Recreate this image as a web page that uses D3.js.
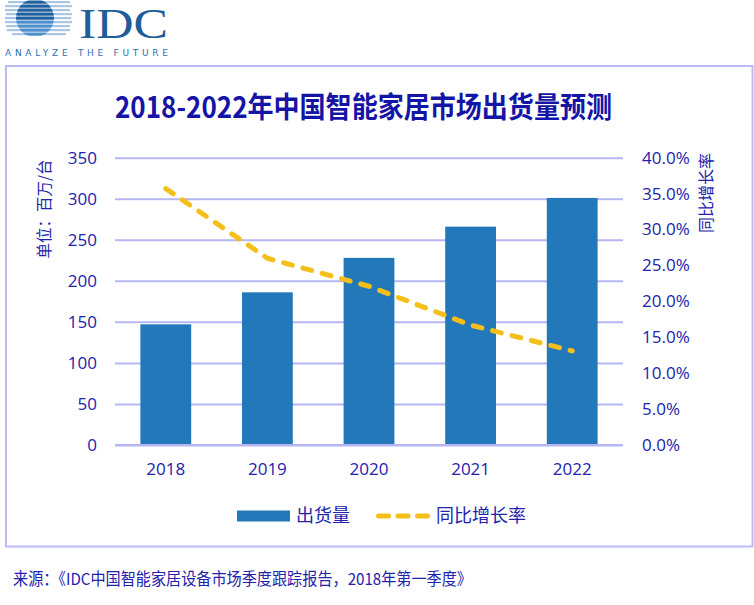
<!DOCTYPE html>
<html>
<head>
<meta charset="utf-8">
<script src="https://cdn.jsdelivr.net/npm/d3@7"></script>
<style>
  html, body { margin: 0; padding: 0; background: #fff; }
  svg { display: block; }
  text { font-family: "Open Sans", "Noto Sans CJK SC", sans-serif; }
</style>
</head>
<body>
<svg id="chart" width="754" height="605"></svg>
<script>
const years = ["2018", "2019", "2020", "2021", "2022"];
const shipments = [147, 186, 228, 266, 301];
const growth = [0.357, 0.260, 0.221, 0.167, 0.131];
const leftTicks = [0, 50, 100, 150, 200, 250, 300, 350];
const rightTicks = [0, 0.05, 0.10, 0.15, 0.20, 0.25, 0.30, 0.35, 0.40];
const titleText = "2018-2022年中国智能家居市场出货量预测";
const leftTitle = "单位：百万/台";
const rightTitle = "同比增长率";
const seriesNames = ["出货量", "同比增长率"];
const sourceText = "来源：《IDC中国智能家居设备市场季度跟踪报告，2018年第一季度》";

const textColor = "#2222AC";
const gridColor = "#B6B6F4";
const barColor = "#2378BA";
const lineColor = "#F5BF1A";

const svg = d3.select("#chart");

// ---- Logo ----
const logo = svg.append("g");
const defs = svg.append("defs");
defs.append("clipPath").attr("id", "logoCircle")
  .append("circle").attr("cx", 35).attr("cy", 18).attr("r", 19);
const stripeYs = [1, 5, 9, 13, 17, 21, 25, 29, 33];
const stripeX0 = [8, 5, 5, 6, 5, 5, 6, 7, 12];
const stripeX1 = [70, 72, 70, 72, 71, 72, 70, 70, 66];
logo.selectAll("rect.outer").data(stripeYs).join("rect")
  .attr("x", (d, i) => stripeX0[i]).attr("y", d => d)
  .attr("width", (d, i) => stripeX1[i] - stripeX0[i]).attr("height", 2.2)
  .attr("fill", "#A9C6E4");
logo.append("g").attr("clip-path", "url(#logoCircle)")
  .selectAll("rect").data(stripeYs).join("rect")
  .attr("x", 14).attr("y", d => d - 0.5)
  .attr("width", 42).attr("height", 3.2)
  .attr("fill", (d, i) => i < 5 ? "#1E5F9E" : "#4F8FCC");
logo.append("text").attr("x", 79).attr("y", 38)
  .style("font-family", "'Liberation Serif', serif")
  .attr("font-size", 42).attr("fill", "#1F5C99")
  .attr("textLength", 89).attr("lengthAdjust", "spacingAndGlyphs")
  .text("IDC");
logo.append("text").attr("x", 5).attr("y", 56)
  .attr("font-size", 9).attr("fill", "#2A70B2")
  .style("font-family", "'DejaVu Sans', sans-serif")
  .attr("textLength", 163).attr("lengthAdjust", "spacing")
  .text("ANALYZE THE FUTURE");

// ---- Frame ----
svg.append("rect").attr("x", 6).attr("y", 66).attr("width", 746.5).attr("height", 480.5)
  .attr("fill", "none").attr("stroke", "#BBBBF6").attr("stroke-width", 2);

// ---- Title ----
svg.append("text").attr("x", 115).attr("y", 118)
  .attr("font-size", 29).attr("font-weight", 700).attr("fill", "#1414A6")
  .style("font-family", "'Noto Sans CJK SC', sans-serif")
  .attr("textLength", 497).attr("lengthAdjust", "spacingAndGlyphs")
  .text(titleText);

// ---- Scales ----
const plotL = 115, plotR = 623, plotT = 157.7, plotB = 445;
const x = d3.scaleBand().domain(years).range([plotL, plotR]).paddingInner(0.5).paddingOuter(0.25);
const yL = d3.scaleLinear().domain([0, 350]).range([plotB, plotT]);
const yR = d3.scaleLinear().domain([0, 0.4]).range([plotB, plotT]);

// gridlines
const grid = svg.append("g").attr("transform", `translate(${plotL},0)`)
  .call(d3.axisRight(yL).tickValues(leftTicks).tickSize(plotR - plotL).tickFormat(""));
grid.select(".domain").remove();
grid.selectAll("line").attr("stroke", gridColor).attr("stroke-width", 2);

// bars
svg.append("g").selectAll("rect").data(years).join("rect")
  .attr("x", d => x(d)).attr("width", x.bandwidth())
  .attr("y", (d, i) => yL(shipments[i]))
  .attr("height", (d, i) => plotB - yL(shipments[i]))
  .attr("fill", barColor);

// baseline
svg.append("line").attr("x1", plotL).attr("x2", plotR).attr("y1", plotB).attr("y2", plotB)
  .attr("stroke", gridColor).attr("stroke-width", 2);

// line
const line = d3.line()
  .x((d, i) => x(years[i]) + x.bandwidth() / 2)
  .y(d => yR(d));
svg.append("path").datum(growth).attr("d", line)
  .attr("fill", "none").attr("stroke", lineColor).attr("stroke-width", 5)
  .attr("stroke-linecap", "round").attr("stroke-linejoin", "round")
  .attr("stroke-dasharray", "9,11");

// left axis labels
const axL = svg.append("g").attr("transform", `translate(${plotL},0)`)
  .call(d3.axisLeft(yL).tickValues(leftTicks).tickSize(0).tickPadding(18));
axL.select(".domain").remove();
axL.selectAll("text").attr("font-size", 17).attr("fill", textColor)
  .style("font-family", "'Open Sans', sans-serif");

// right axis labels
const axR = svg.append("g").attr("transform", `translate(${plotR},0)`)
  .call(d3.axisRight(yR).tickValues(rightTicks).tickSize(0).tickPadding(19).tickFormat(d3.format(".1%")));
axR.select(".domain").remove();
axR.selectAll("text").attr("font-size", 17).attr("fill", textColor)
  .style("font-family", "'Open Sans', sans-serif");

// x axis labels
const axX = svg.append("g").attr("transform", `translate(0,${plotB})`)
  .call(d3.axisBottom(x).tickSize(0).tickPadding(18));
axX.select(".domain").remove();
axX.selectAll("text").attr("font-size", 17).attr("fill", textColor)
  .style("font-family", "'Open Sans', sans-serif");

// axis titles
svg.append("text").attr("transform", "translate(50,209) rotate(-90)")
  .attr("text-anchor", "middle").attr("font-size", 15.5).attr("fill", textColor)
  .style("font-family", "'Noto Sans CJK SC', sans-serif")
  .text(leftTitle);
svg.append("text").attr("transform", "translate(712,193) rotate(-90)")
  .attr("text-anchor", "middle").attr("font-size", 16).attr("fill", textColor)
  .style("font-family", "'Noto Sans CJK SC', sans-serif")
  .text(rightTitle);

// legend
const lg = svg.append("g");
lg.append("rect").attr("x", 237).attr("y", 510.5).attr("width", 53).attr("height", 11).attr("fill", barColor);
lg.append("text").attr("x", 296).attr("y", 522).attr("font-size", 18).attr("fill", textColor)
  .style("font-family", "'Noto Sans CJK SC', sans-serif").text(seriesNames[0]);
lg.append("line").attr("x1", 378.5).attr("x2", 427.5).attr("y1", 516).attr("y2", 516)
  .attr("stroke", lineColor).attr("stroke-width", 5).attr("stroke-linecap", "round")
  .attr("stroke-dasharray", "10,9.5");
lg.append("text").attr("x", 436).attr("y", 522).attr("font-size", 18).attr("fill", textColor)
  .style("font-family", "'Noto Sans CJK SC', sans-serif").text(seriesNames[1]);

// source
svg.append("text").attr("x", 13).attr("y", 585).attr("font-size", 16.5).attr("fill", textColor)
  .style("font-family", "'Noto Sans CJK SC', sans-serif")
  .attr("textLength", 459).attr("lengthAdjust", "spacingAndGlyphs")
  .text(sourceText);
</script>
</body>
</html>
